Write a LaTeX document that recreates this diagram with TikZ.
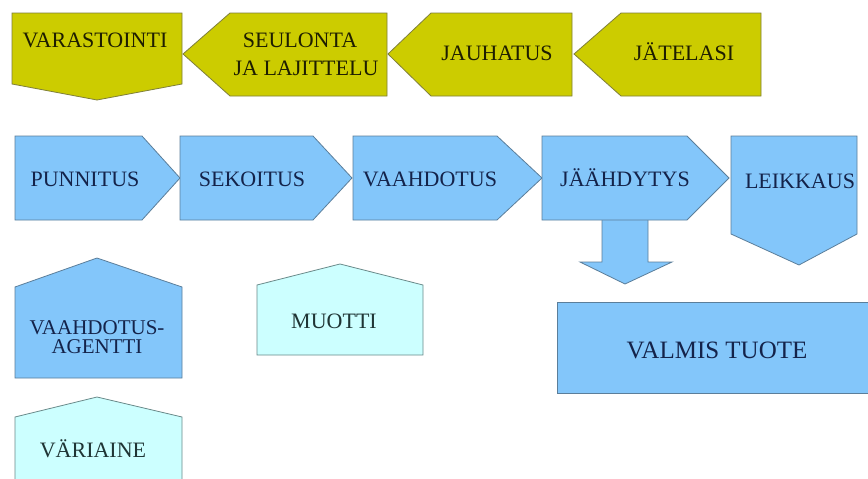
\documentclass[tikz,border=0pt]{standalone}
\usepackage{fontspec}
\setmainfont{Liberation Serif}
\newfontfamily\lserif{Liberation Serif}
\definecolor{olivefill}{HTML}{CCCC00}
\definecolor{oliveline}{HTML}{7F7F3A}
\definecolor{bluefill}{HTML}{83C6FA}
\definecolor{blueline}{HTML}{5B7E9A}
\definecolor{cyanfill}{HTML}{CCFFFF}
\definecolor{cyanline}{HTML}{6A8A8A}
\definecolor{olivetext}{HTML}{1E1E00}
\definecolor{bluetext}{HTML}{14234A}
\definecolor{cyantext}{HTML}{1F3535}
\begin{document}
\begin{tikzpicture}[x=1pt,y=-1pt,
  oshape/.style={fill=olivefill,draw=oliveline,line width=0.8pt},
  bshape/.style={fill=bluefill,draw=blueline,line width=0.8pt},
  cshape/.style={fill=cyanfill,draw=cyanline,line width=0.8pt},
  lbl/.style={font=\lserif\fontsize{22}{24}\selectfont,inner sep=0pt,anchor=base,align=center},
  olbl/.style={lbl,text=olivetext},
  blbl/.style={lbl,text=bluetext},
  clbl/.style={lbl,text=cyantext}]
\useasboundingbox (0,0) rectangle (868,479);
\fill[white] (0,0) rectangle (868,479);

% top row (olive)
\draw[oshape] (12,13) -- (182,13) -- (182,84) -- (97,100) -- (12,84) -- cycle;
\draw[oshape] (183,54) -- (230,13) -- (387,13) -- (387,96) -- (230,96) -- cycle;
\draw[oshape] (388,54) -- (431,13) -- (572,13) -- (572,96) -- (431,96) -- cycle;
\draw[oshape] (574,54) -- (621,13) -- (761,13) -- (761,96) -- (621,96) -- cycle;
\node[olbl] (varastointi) at (95,47) {VARASTOINTI};
\node[olbl] (seulonta) at (300,47) {SEULONTA};
\node[olbl] (lajittelu) at (306,75) {JA LAJITTELU};
\node[olbl] (jauhatus) at (497,60) {JAUHATUS};
\node[olbl] (jatelasi) at (684,60) {JÄTELASI};

% second row (blue)
\draw[bshape] (602,210) -- (648,210) -- (648,262) -- (672,262) -- (625,284) -- (580,262) -- (602,262) -- cycle;
\draw[bshape] (15,136) -- (142,136) -- (180,178) -- (142,220) -- (15,220) -- cycle;
\draw[bshape] (180,136) -- (313,136) -- (352,178) -- (313,220) -- (180,220) -- cycle;
\draw[bshape] (353,136) -- (497,136) -- (542,178) -- (497,220) -- (353,220) -- cycle;
\draw[bshape] (542,136) -- (687,136) -- (729,178) -- (687,220) -- (542,220) -- cycle;
\draw[bshape] (731,136) -- (857,136) -- (857,234) -- (799,265) -- (731,234) -- cycle;
\draw[bshape] (557,302) rectangle (872,393);
\node[blbl] (punnitus) at (85,186) {PUNNITUS};
\node[blbl] (sekoitus) at (252,186) {SEKOITUS};
\node[blbl] (vaahdotus) at (430,186) {VAAHDOTUS};
\node[blbl] (jaahdytys) at (625,186) {JÄÄHDYTYS};
\node[blbl] (leikkaus) at (800,188) {LEIKKAUS};
\node[blbl,font=\lserif\fontsize{25}{27}\selectfont] (valmis) at (717,358) {VALMIS TUOTE};

% third row
\draw[bshape] (15,287) -- (97,258) -- (182,287) -- (182,378) -- (15,378) -- cycle;
\draw[cshape] (257,285) -- (340,264) -- (423,285) -- (423,355) -- (257,355) -- cycle;
\draw[cshape] (15,417) -- (97,397) -- (182,417) -- (182,484) -- (15,484) -- cycle;
\node[blbl,font=\lserif\fontsize{21}{23}\selectfont] (agentti1) at (97,334) {VAAHDOTUS-};
\node[blbl,font=\lserif\fontsize{21}{23}\selectfont] (agentti2) at (97,353) {AGENTTI};
\node[clbl] (muotti) at (334,328) {MUOTTI};
\node[clbl] (variaine) at (93,457) {VÄRIAINE};
\end{tikzpicture}
\end{document}
